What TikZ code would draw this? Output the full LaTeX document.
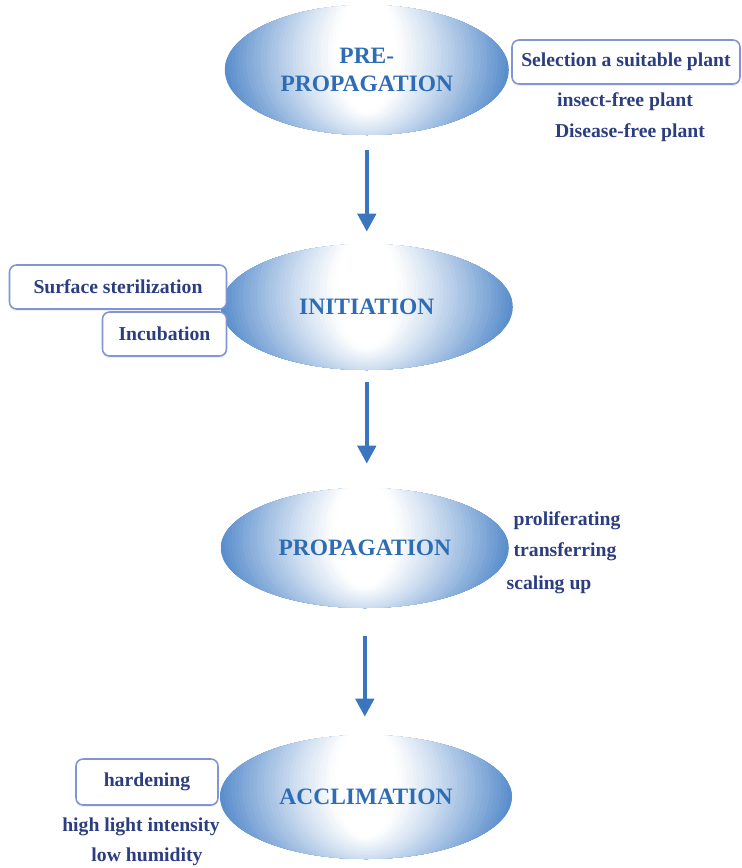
\documentclass[tikz,border=0pt]{standalone}
\usepackage{fontspec}
\setmainfont{Liberation Serif}
\usepackage{xcolor}
\usepackage{tikz}
\usetikzlibrary{shapes.geometric,arrows.meta,shadows}

\definecolor{ttlblue}{RGB}{46,109,180}
\definecolor{sidetxt}{RGB}{44,62,128}
\definecolor{boxline}{RGB}{128,148,214}
\definecolor{ellblue}{RGB}{90,142,204}
\definecolor{arrblue}{RGB}{58,117,189}

\begin{document}
\begin{tikzpicture}[
  % #1 = width, #2 = height (cm); white core drawn in layers
  stage/.style 2 args={ellipse, fill=ellblue, inner sep=0pt, minimum width=#1cm, minimum height=#2cm,
    align=center, text=ttlblue, font=\fontsize{16.7}{19.5}\selectfont\bfseries,
    path picture={
      \foreach \k in {0,...,39}{
        \pgfmathsetmacro\s{1-\k/40}
        \pgfmathtruncatemacro\p{100*max(0.001,min(1,(\s-0.2)/0.8))^1.2}
        \fill[ellblue!\p!white] ([yshift={(0.3-0.15*\s)*#2/2*1cm}]path picture bounding box.center)
          ellipse [x radius={\s*#1/2*1cm}, y radius={(0.7+1.05*\s)*#2/2*1cm}];
      }
    }},
  tbox/.style={draw=boxline, line width=1.1pt, fill=white, rounded corners=5pt, minimum height=1.1cm, inner sep=2pt, text=sidetxt, font=\fontsize{14}{16}\selectfont\bfseries, drop shadow={opacity=0.12, shadow xshift=0pt, shadow yshift=-1.5pt}},
  note/.style={text=sidetxt, inner sep=1pt, font=\fontsize{14}{16}\selectfont\bfseries},
  flow/.style={-{Triangle[width=0.45cm,length=0.45cm]}, line width=0.11cm, draw=arrblue}
]
\useasboundingbox (0,0) rectangle (18.525,-21.7);

% Stages
\node[stage={7.1}{3.25}] (pre)  at (9.17,-1.75)   {PRE-\\PROPAGATION};
\node[stage={7.3}{3.15}] (init) at (9.17,-7.675)  {INITIATION};
\node[stage={7.2}{3.0}]  (prop) at (9.12,-13.7)   {PROPAGATION};
\node[stage={7.3}{3.1}]  (accl) at (9.15,-19.925) {ACCLIMATION};

% Pre-propagation side
\node[tbox, minimum width=5.7cm] (sel) at (15.65,-1.55) {Selection a suitable plant};
\node[note] (insect)  at (15.625,-2.55) {insect-free plant};
\node[note] (disease) at (15.75,-3.325) {Disease-free plant};

% Initiation side
\node[tbox, minimum width=5.425cm] (surf)  at (2.95,-7.175) {Surface sterilization};
\node[tbox, minimum width=3.1cm]   (incub) at (4.1125,-8.35) {Incubation};

% Propagation side
\node[note] (prolif) at (14.175,-13.025) {proliferating};
\node[note] (transf) at (14.125,-13.8)   {transferring};
\node[note] (scale)  at (13.725,-14.625) {scaling up};

% Acclimation side
\node[tbox, minimum width=3.55cm, minimum height=1.15cm] (hard) at (3.675,-19.55) {hardening};
\node[note] (light) at (3.525,-20.675) {high light intensity};
\node[note] (humid) at (3.675,-21.425) {low humidity};

% Arrows between stages
\draw[flow] ([yshift=-0.375cm]pre.south) -- ([yshift=0.3cm]init.north);
\draw[flow] ([yshift=-0.3cm]init.south) -- ([yshift=0.6cm]init.south |- prop.north);
\draw[flow] ([yshift=-0.7cm]prop.south) -- ([yshift=0.45cm]prop.south |- accl.north);
\end{tikzpicture}
\end{document}
